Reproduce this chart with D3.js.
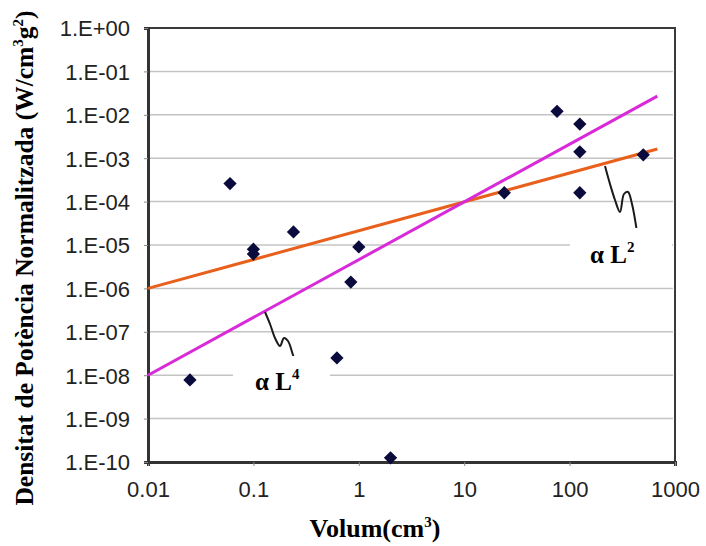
<!DOCTYPE html>
<html>
<head>
<meta charset="utf-8">
<script src="https://cdn.jsdelivr.net/npm/d3@7/dist/d3.min.js"></script>
<style>
  html, body { margin: 0; padding: 0; background: #ffffff; }
  svg { display: block; }
</style>
</head>
<body>
<svg id="chart" width="706" height="546"></svg>
<script>
// Measured devices: volume (cm³) and normalised power density (W/cm³g²)
const volumes   = [0.025, 0.06, 0.1, 0.1, 0.24, 0.62, 0.84, 1.0, 2.0, 24, 76, 125, 125, 125, 500];
const densities = [7.8e-9, 2.6e-4, 8.0e-6, 6.2e-6, 2.0e-5, 2.5e-8, 1.4e-6, 9.0e-6, 1.25e-10, 1.6e-4, 1.2e-2, 6.1e-3, 1.4e-3, 1.6e-4, 1.2e-3];

// Scaling trend lines: density ∝ V^(2/3) (L²) and ∝ V^(4/3) (L⁴)
const trendX    = [0.01, 680];
const trendL2   = [1e-6, 1.63e-3];
const trendL4   = [1e-8, 2.7e-2];

const xTicks = [0.01, 0.1, 1, 10, 100, 1000];
const xTickLabels = ["0.01", "0.1", "1", "10", "100", "1000"];
const yTicks = [1e0, 1e-1, 1e-2, 1e-3, 1e-4, 1e-5, 1e-6, 1e-7, 1e-8, 1e-9, 1e-10];
const yTickLabels = ["1.E+00", "1.E-01", "1.E-02", "1.E-03", "1.E-04", "1.E-05", "1.E-06", "1.E-07", "1.E-08", "1.E-09", "1.E-10"];

const svg = d3.select("#chart");
const plot = { left: 148, right: 675, top: 28, bottom: 462 };

const x = d3.scaleLog().domain([0.01, 1000]).range([plot.left, plot.right]);
const y = d3.scaleLog().domain([1e-10, 1]).range([plot.bottom, plot.top]);

const serif = "'Liberation Serif', 'Times New Roman', serif";

// Horizontal gridlines at each decade
svg.append("g")
  .selectAll("line")
  .data(yTicks.filter(v => v < 1 && v > 1e-10))
  .join("line")
  .attr("x1", plot.left).attr("x2", plot.right - 2)
  .attr("y1", d => y(d)).attr("y2", d => y(d))
  .attr("stroke", "#c4c4c4").attr("stroke-width", 1.5);

// Plot frame (top and right)
svg.append("path")
  .attr("d", `M${plot.left},${plot.top}H${plot.right}V${plot.bottom}`)
  .attr("fill", "none").attr("stroke", "#3a3a3a").attr("stroke-width", 2);

// Axes
const xAxis = d3.axisBottom(x).tickValues(xTicks).tickFormat((d, i) => xTickLabels[i]).tickSize(4).tickPadding(15);
const yAxis = d3.axisLeft(y).tickValues(yTicks).tickFormat((d, i) => yTickLabels[i]).tickSize(4).tickPadding(14);

const gx = svg.append("g").attr("transform", `translate(0,${plot.bottom})`).call(xAxis);
const gy = svg.append("g").attr("transform", `translate(${plot.left},0)`).call(yAxis);

[gx, gy].forEach(g => {
  g.select(".domain").attr("stroke", "#333333").attr("stroke-width", 3);
  g.selectAll(".tick line").attr("stroke", "#8a8a8a").attr("stroke-width", 1);
  g.selectAll(".tick text")
    .attr("font-family", "'Liberation Sans', Arial, sans-serif")
    .attr("font-size", 22)
    .attr("fill", "#222222");
});
gy.selectAll(".tick text").attr("dy", "0.36em");

// Trend lines
const line = d3.line().x(d => x(d[0])).y(d => y(d[1]));
svg.append("path")
  .datum(trendX.map((v, i) => [v, trendL2[i]]))
  .attr("d", line)
  .attr("fill", "none").attr("stroke", "#e8601c").attr("stroke-width", 3);
svg.append("path")
  .datum(trendX.map((v, i) => [v, trendL4[i]]))
  .attr("d", line)
  .attr("fill", "none").attr("stroke", "#d92ad9").attr("stroke-width", 3);

// Data markers (diamonds)
const diamond = d3.symbol().type(d3.symbolSquare).size(88);
svg.append("g")
  .selectAll("path")
  .data(volumes.map((v, i) => [v, densities[i]]))
  .join("path")
  .attr("d", diamond)
  .attr("transform", d => `translate(${x(d[0])},${y(d[1])}) rotate(45)`)
  .attr("fill", "#0a0a3c");

// Leader squiggles from lines to their labels
const squiggle = d3.line().curve(d3.curveCatmullRom);
svg.append("path")
  .attr("d", squiggle([[265, 312], [270, 324], [275, 338], [280, 346], [284, 338], [288, 341], [293, 355], [296, 364]]))
  .attr("fill", "none").attr("stroke", "#1a1a1a").attr("stroke-width", 2);
svg.append("path")
  .attr("d", squiggle([[605, 166], [610, 184], [615, 200], [620, 212], [624, 194], [628, 192], [632, 204], [637, 232]]))
  .attr("fill", "none").attr("stroke", "#1a1a1a").attr("stroke-width", 2);

// Label boxes
function trendLabel(bx, by, bw, bh, tx, ty, exp) {
  svg.append("rect").attr("x", bx).attr("y", by).attr("width", bw).attr("height", bh).attr("fill", "#ffffff");
  const t = svg.append("text")
    .attr("x", tx).attr("y", ty)
    .attr("font-family", serif)
    .attr("font-weight", "bold")
    .attr("font-size", 25)
    .attr("fill", "#000");
  t.append("tspan").text("α L");
  t.append("tspan").attr("dy", -11).attr("font-size", 15).text(exp);
}
trendLabel(233, 356, 97, 50, 255, 390, "4");
trendLabel(570, 228, 102, 50, 590, 263, "2");

// Axis titles
const xt = svg.append("text")
  .attr("x", 375).attr("y", 537)
  .attr("text-anchor", "middle")
  .attr("font-family", serif)
  .attr("font-weight", "bold").attr("font-size", 26).attr("fill", "#000");
xt.append("tspan").text("Volum(cm");
xt.append("tspan").attr("dy", -10).attr("font-size", 15).text("3");
xt.append("tspan").attr("dy", 10).text(")");

const yt = svg.append("text")
  .attr("transform", "translate(33,258) rotate(-90)")
  .attr("text-anchor", "middle")
  .attr("font-family", serif)
  .attr("font-weight", "bold").attr("font-size", 25.5).attr("fill", "#000");
yt.append("tspan").text("Densitat de Potència Normalitzada (W/cm");
yt.append("tspan").attr("dy", -10).attr("font-size", 15).text("3");
yt.append("tspan").attr("dy", 10).text("g");
yt.append("tspan").attr("dy", -10).attr("font-size", 15).text("2");
yt.append("tspan").attr("dy", 10).text(")");
</script>
</body>
</html>
